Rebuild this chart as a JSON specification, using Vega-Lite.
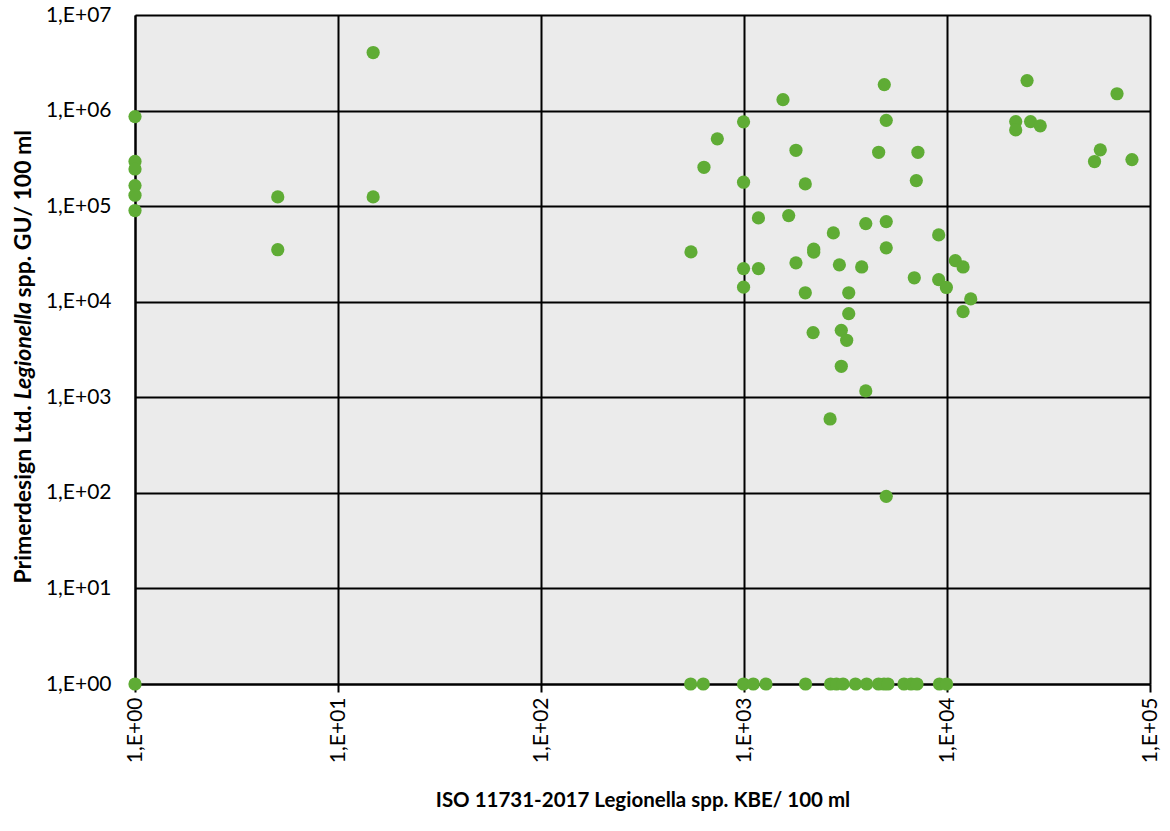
{
  "$schema": "https://vega.github.io/schema/vega-lite/v6.json",
  "autosize": "none",
  "padding": {"left": 135, "top": 15, "right": 20, "bottom": 147},
  "width": 1015,
  "height": 669,
  "background": "white",
  "config": {
    "view": {"fill": "#ebebeb", "stroke": null},
    "axis": {"labelFont": "Lato", "titleFont": "Lato", "labelColor": "#000", "titleColor": "#000"}
  },
  "data": {"values": [
    {"x": 1, "y": 865000}, {"x": 1, "y": 294000}, {"x": 1, "y": 245000}, {"x": 1, "y": 164000},
    {"x": 1, "y": 130000}, {"x": 1, "y": 90000}, {"x": 1, "y": 1},
    {"x": 5.05, "y": 125000}, {"x": 5.05, "y": 35000},
    {"x": 14.9, "y": 4050000}, {"x": 14.9, "y": 125000},
    {"x": 4910, "y": 1870000}, {"x": 1556, "y": 1300000}, {"x": 995, "y": 762000}, {"x": 5020, "y": 791000},
    {"x": 739, "y": 506000}, {"x": 1803, "y": 384000}, {"x": 4605, "y": 366000}, {"x": 7190, "y": 366000},
    {"x": 635, "y": 255000}, {"x": 995, "y": 178000}, {"x": 2004, "y": 171000}, {"x": 7060, "y": 185000},
    {"x": 1178, "y": 75300}, {"x": 1660, "y": 79600}, {"x": 2755, "y": 52500}, {"x": 3980, "y": 65700},
    {"x": 5020, "y": 68900}, {"x": 9100, "y": 50000}, {"x": 548, "y": 33200}, {"x": 2205, "y": 33000},
    {"x": 2205, "y": 35500}, {"x": 5020, "y": 36600}, {"x": 1803, "y": 25500}, {"x": 995, "y": 22200},
    {"x": 1178, "y": 22200}, {"x": 2950, "y": 24300}, {"x": 3800, "y": 23100}, {"x": 6900, "y": 17800},
    {"x": 9100, "y": 17000}, {"x": 9930, "y": 14100}, {"x": 995, "y": 14200}, {"x": 2004, "y": 12400},
    {"x": 3280, "y": 12400}, {"x": 10990, "y": 26900}, {"x": 12000, "y": 23100}, {"x": 13090, "y": 10700},
    {"x": 12000, "y": 7870}, {"x": 3280, "y": 7500}, {"x": 2190, "y": 4750}, {"x": 3015, "y": 5020},
    {"x": 3205, "y": 3950}, {"x": 3015, "y": 2110}, {"x": 3980, "y": 1166}, {"x": 2655, "y": 593},
    {"x": 5020, "y": 92},
    {"x": 24800, "y": 2060000}, {"x": 68800, "y": 1500000}, {"x": 21800, "y": 767000}, {"x": 21800, "y": 628000},
    {"x": 25800, "y": 767000}, {"x": 28800, "y": 692000}, {"x": 56900, "y": 388000}, {"x": 53300, "y": 293000},
    {"x": 81500, "y": 307000},
    {"x": 546, "y": 1}, {"x": 630, "y": 1}, {"x": 995, "y": 1}, {"x": 1111, "y": 1}, {"x": 1283, "y": 1},
    {"x": 2010, "y": 1}, {"x": 2670, "y": 1}, {"x": 2855, "y": 1}, {"x": 3075, "y": 1}, {"x": 3540, "y": 1},
    {"x": 4020, "y": 1}, {"x": 4600, "y": 1}, {"x": 4895, "y": 1}, {"x": 5120, "y": 1}, {"x": 6140, "y": 1},
    {"x": 6650, "y": 1}, {"x": 7115, "y": 1}, {"x": 9180, "y": 1}, {"x": 9950, "y": 1}
  ]},
  "resolve": {"scale": {"y": "shared"}, "axis": {"y": "independent"}},
  "layer": [
    {
      "mark": {"type": "point", "filled": true, "opacity": 1, "size": 175, "color": "#5fac35", "clip": false},
      "encoding": {
        "x": {
          "field": "x", "type": "quantitative",
          "scale": {"type": "log", "domain": [1, 100000], "nice": false, "zero": false},
          "axis": {
            "values": [1, 10, 100, 1000, 10000, 100000],
            "labelExpr": "'1,E+0' + round(log(datum.value)/LN10)",
            "labelAngle": 270, "labelAlign": "right", "labelBaseline": "middle",
            "labelFontSize": 21, "labelPadding": 5, "labelOverlap": false, "labelFlush": false, "labelBound": false,
            "grid": true, "gridColor": "#000", "gridWidth": 2, "gridOpacity": 1,
            "domain": true, "domainColor": "#000", "domainWidth": 2,
            "ticks": true, "tickSize": 8, "tickColor": "#000", "tickWidth": 2,
            "title": "ISO 11731-2017 Legionella spp. KBE/ 100 ml",
            "titleFontSize": 20.5, "titleFontWeight": "bold",
            "titleBaseline": "middle", "titleY": 116, "titleX": 507.5, "titleAlign": "center"
          }
        },
        "y": {
          "field": "y", "type": "quantitative",
          "scale": {"type": "log", "domain": [1, 10000000], "nice": false, "zero": false},
          "axis": {
            "orient": "left",
            "values": [1, 10, 100, 1000, 10000, 100000, 1000000, 10000000],
            "labelExpr": "'1,E+0' + round(log(datum.value)/LN10)",
            "labelFontSize": 21, "labelPadding": 24, "labelOverlap": false, "labelFlush": false, "labelBound": false,
            "grid": true, "gridColor": "#000", "gridWidth": 2, "gridOpacity": 1,
            "domain": true, "domainColor": "#000", "domainWidth": 2,
            "ticks": false,
            "title": "Primerdesign Ltd.",
            "titleFontSize": 23, "titleFontWeight": "bold", "titleAngle": 270,
            "titleAlign": "left", "titleBaseline": "middle", "titleX": -112, "titleY": 568
          }
        }
      }
    },
    {
      "mark": {"type": "point", "opacity": 0},
      "encoding": {
        "y": {
          "field": "y", "type": "quantitative",
          "scale": {"type": "log", "domain": [1, 10000000], "nice": false, "zero": false},
          "axis": {
            "orient": "left", "labels": false, "ticks": false, "domain": false, "grid": false,
            "title": "Legionella",
            "titleFontSize": 23, "titleFontWeight": "bold", "titleFontStyle": "italic", "titleAngle": 270,
            "titleAlign": "left", "titleBaseline": "middle", "titleX": -112, "titleY": 384
          }
        }
      }
    },
    {
      "mark": {"type": "point", "opacity": 0},
      "encoding": {
        "y": {
          "field": "y", "type": "quantitative",
          "scale": {"type": "log", "domain": [1, 10000000], "nice": false, "zero": false},
          "axis": {
            "orient": "left", "labels": false, "ticks": false, "domain": false, "grid": false,
            "title": "spp. GU/ 100 ml",
            "titleFontSize": 23, "titleFontWeight": "bold", "titleAngle": 270,
            "titleAlign": "left", "titleBaseline": "middle", "titleX": -112, "titleY": 282
          }
        }
      }
    }
  ]
}
